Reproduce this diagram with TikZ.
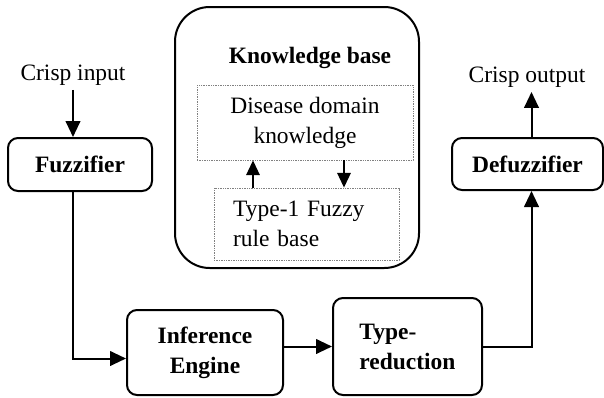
\documentclass[tikz,border=0pt]{standalone}
\usepackage{fontspec}
\setmainfont{Liberation Serif}
\usepackage{tikz}
\usetikzlibrary{arrows.meta}

\newcommand{\diagfont}{\fontsize{17.6}{22.5}\selectfont}
\tikzset{
  blk/.style={draw, line width=1.5pt, rounded corners=7.5pt, font=\diagfont\bfseries, align=center},
  dotbox/.style={draw=gray, dash pattern=on 1pt off 0.8pt, line width=0.6pt},
  arr/.style={line width=1.5pt, -{Triangle[length=12pt,width=11pt]}}
}

\begin{document}
\begin{tikzpicture}[x=0.75pt, y=-0.75pt, font=\diagfont]
\useasboundingbox (0,0) rectangle (604,397);
% knowledge base
\node [draw, line width=1.5pt, rounded corners=26pt, minimum width=183pt, minimum height=195.75pt] (kb) at (297,137.5) {};
\node [font=\diagfont\bfseries] (kbl) at (310,58) {Knowledge base};
\node [dotbox, minimum width=162pt, minimum height=56.25pt, align=center] (dis) at (305,122.5) {Disease domain\\knowledge};
\node [dotbox, minimum width=138.75pt, minimum height=54pt, inner xsep=14pt, text width=110pt, align=left] (rb) at (306.5,224) {Type-1 Fuzzy\\rule base};
% outer blocks
\node [blk, minimum width=108pt, minimum height=39.75pt] (fuzz) at (80,164.5) {Fuzzifier};
\node [blk, minimum width=113.25pt, minimum height=39pt] (defz) at (527.5,164) {Defuzzifier};
\node [blk, minimum width=117pt, minimum height=63.75pt] (inf) at (205,352.5) {Inference\\Engine};
\node [blk, minimum width=111.75pt, minimum height=72.75pt, align=left] (tr) at (407.5,346.5) {Type-\\reduction};
\node (in) at (73,75) {Crisp input};
\node (out) at (527,77) {Crisp output};
% connectors
\draw [arr] (in.south) -- (in.south |- fuzz.north);
\draw [arr] (fuzz.south -| in.south) |- ([yshift=-4.5pt]inf.west);
\draw [arr] (inf.east |- tr.west) -- (tr.west);
\draw [arr] (tr.east) -| ([xshift=3pt]defz.south);
\draw [arr] ([xshift=3pt]defz.north) -- ([xshift=3pt]defz.north |- out.south);
\draw [arr, -{Triangle[length=11pt,width=10pt]}] (rb.north -| 253,0) -- (dis.south -| 253,0);
\draw [arr, -{Triangle[length=11pt,width=10pt]}] (dis.south -| 344,0) -- (rb.north -| 344,0);
\end{tikzpicture}
\end{document}
